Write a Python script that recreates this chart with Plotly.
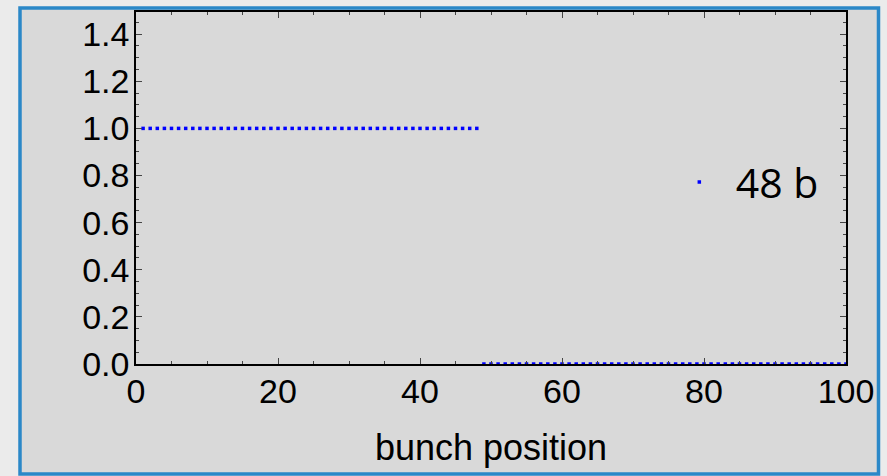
import plotly.graph_objects as go

# ---- data ----
bunch_position = list(range(1, 101))
filled_bunches = [1] * 48 + [0] * 52
series_name = "48 b"
x_tick_vals = [0, 20, 40, 60, 80, 100]
y_tick_vals = [0.0, 0.2, 0.4, 0.6, 0.8, 1.0, 1.2, 1.4]
y_tick_text = ["0.0", "0.2", "0.4", "0.6", "0.8", "1.0", "1.2", "1.4"]

W, H = 887, 476
L, R, T, B = 136, 41, 10, 112
pw, ph = W - L - R, H - T - B

def px_x(p):
    return (p - L) / pw

def px_y(p):
    return (H - B - p) / ph

fig = go.Figure()
fig.add_trace(go.Scatter(
    x=bunch_position, y=filled_bunches, mode="markers", name=series_name,
    marker=dict(symbol="square", size=3.5, color="#0000ff", line=dict(width=0)),
    cliponaxis=False,
))

axis_common = dict(
    showline=True, linecolor="#000000", linewidth=1.5, mirror="allticks",
    ticks="inside", ticklen=6, tickwidth=1, tickcolor="#444444",
    showgrid=False, zeroline=False,
    tickfont=dict(family="Liberation Sans, Arial, sans-serif", size=34, color="#000000"),
)

fig.update_layout(
    width=W, height=H,
    margin=dict(l=L, r=R, t=T, b=B, pad=0),
    paper_bgcolor="#ebebeb",
    plot_bgcolor="rgba(0,0,0,0)",
    showlegend=True,
    legend=dict(x=0.742, y=0.516, xanchor="left", yanchor="middle",
                itemwidth=63,
                bgcolor="rgba(0,0,0,0)", borderwidth=0,
                font=dict(family="Open Sans, sans-serif", size=41, color="#000000")),
    xaxis=dict(range=[0, 100], tickvals=x_tick_vals,
               minor=dict(dtick=5, ticks="inside", ticklen=3, tickcolor="#444444"),
               ticklabelstandoff=-4,
               title=dict(text="bunch position", standoff=26,
                          font=dict(family="Liberation Sans, Arial, sans-serif", size=36, color="#000000")),
               **axis_common),
    yaxis=dict(range=[0, 1.494], tickvals=y_tick_vals, ticktext=y_tick_text,
               minor=dict(dtick=0.05, ticks="inside", ticklen=3, tickcolor="#444444"),
               ticklabelstandoff=-2,
               **axis_common),
    shapes=[dict(type="rect", xref="paper", yref="paper", layer="below",
                 x0=px_x(20), x1=px_x(878.5), y0=px_y(474.5), y1=px_y(6),
                 fillcolor="#d9d9d9", line=dict(color="#2b88c8", width=3.5))],
)

fig.write_html("out.html", config={"displayModeBar": False},
               post_script="document.body.style.margin='0';document.body.style.padding='0';")
